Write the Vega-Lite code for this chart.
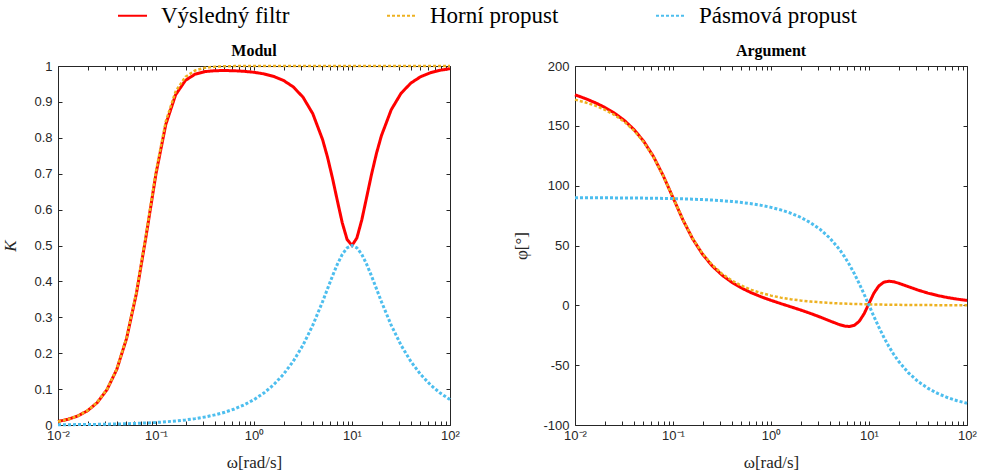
{
  "$schema": "https://vega.github.io/schema/vega-lite/v6.json",
  "autosize": {"type": "pad"},
  "padding": {"left": 1, "top": 0, "right": 5, "bottom": 5},
  "background": "white",
  "datasets": {
    "d": [
      {"w":0.01,"s":"Výsledný filtr","K":0.00993,"phi":175.91},
      {"w":0.012589,"s":"Výsledný filtr","K":0.01572,"phi":172.95},
      {"w":0.015849,"s":"Výsledný filtr","K":0.02489,"phi":169.57},
      {"w":0.019953,"s":"Výsledný filtr","K":0.03941,"phi":165.59},
      {"w":0.025119,"s":"Výsledný filtr","K":0.06237,"phi":160.77},
      {"w":0.031623,"s":"Výsledný filtr","K":0.09854,"phi":154.75},
      {"w":0.039811,"s":"Výsledný filtr","K":0.15501,"phi":147.09},
      {"w":0.050119,"s":"Výsledný filtr","K":0.24122,"phi":137.20},
      {"w":0.063096,"s":"Výsledný filtr","K":0.36621,"phi":124.40},
      {"w":0.079433,"s":"Výsledný filtr","K":0.52830,"phi":108.38},
      {"w":0.1,"s":"Výsledný filtr","K":0.70004,"phi":90.01},
      {"w":0.12589,"s":"Výsledný filtr","K":0.83723,"phi":71.63},
      {"w":0.15849,"s":"Výsledný filtr","K":0.91967,"phi":55.62},
      {"w":0.19953,"s":"Výsledný filtr","K":0.95994,"phi":42.84},
      {"w":0.25119,"s":"Výsledný filtr","K":0.97739,"phi":32.94},
      {"w":0.31623,"s":"Výsledný filtr","K":0.98440,"phi":25.28},
      {"w":0.39811,"s":"Výsledný filtr","K":0.98690,"phi":19.27},
      {"w":0.50119,"s":"Výsledný filtr","K":0.98738,"phi":14.45},
      {"w":0.63096,"s":"Výsledný filtr","K":0.98675,"phi":10.49},
      {"w":0.79433,"s":"Výsledný filtr","K":0.98520,"phi":7.12},
      {"w":1,"s":"Výsledný filtr","K":0.98250,"phi":4.17},
      {"w":1.2589,"s":"Výsledný filtr","K":0.97812,"phi":1.45},
      {"w":1.5849,"s":"Výsledný filtr","K":0.97110,"phi":-1.18},
      {"w":1.9953,"s":"Výsledný filtr","K":0.95991,"phi":-3.85},
      {"w":2.5119,"s":"Výsledný filtr","K":0.94196,"phi":-6.67},
      {"w":3.1623,"s":"Výsledný filtr","K":0.91317,"phi":-9.75},
      {"w":3.9811,"s":"Výsledný filtr","K":0.86710,"phi":-13.03},
      {"w":5.0119,"s":"Výsledný filtr","K":0.79487,"phi":-16.17},
      {"w":5.6234,"s":"Výsledný filtr","K":0.74612,"phi":-17.32},
      {"w":6.3096,"s":"Výsledný filtr","K":0.68872,"phi":-17.70},
      {"w":7.0795,"s":"Výsledný filtr","K":0.62555,"phi":-16.68},
      {"w":7.9433,"s":"Výsledný filtr","K":0.56385,"phi":-13.38},
      {"w":8.9125,"s":"Výsledný filtr","K":0.51677,"phi":-7.07},
      {"w":10,"s":"Výsledný filtr","K":0.50010,"phi":1.62},
      {"w":11.22,"s":"Výsledný filtr","K":0.52109,"phi":10.18},
      {"w":12.589,"s":"Výsledný filtr","K":0.57137,"phi":16.21},
      {"w":14.125,"s":"Výsledný filtr","K":0.63495,"phi":19.27},
      {"w":15.849,"s":"Výsledný filtr","K":0.69906,"phi":20.14},
      {"w":17.783,"s":"Výsledný filtr","K":0.75691,"phi":19.70},
      {"w":19.953,"s":"Výsledný filtr","K":0.80578,"phi":18.59},
      {"w":25.119,"s":"Výsledný filtr","K":0.87790,"phi":15.64},
      {"w":31.623,"s":"Výsledný filtr","K":0.92374,"phi":12.74},
      {"w":39.811,"s":"Výsledný filtr","K":0.95234,"phi":10.24},
      {"w":50.119,"s":"Výsledný filtr","K":0.97013,"phi":8.18},
      {"w":63.096,"s":"Výsledný filtr","K":0.98124,"phi":6.52},
      {"w":79.433,"s":"Výsledný filtr","K":0.98821,"phi":5.19},
      {"w":100,"s":"Výsledný filtr","K":0.99257,"phi":4.13},

      {"w":0.01,"s":"Horní propust","K":0.0100,"phi":171.87},
      {"w":0.012589,"s":"Horní propust","K":0.015847,"phi":169.75},
      {"w":0.015849,"s":"Horní propust","K":0.025111,"phi":167.05},
      {"w":0.019953,"s":"Horní propust","K":0.039779,"phi":163.62},
      {"w":0.025119,"s":"Horní propust","K":0.062970,"phi":159.24},
      {"w":0.031623,"s":"Horní propust","K":0.099504,"phi":153.58},
      {"w":0.039811,"s":"Horní propust","K":0.15654,"phi":146.22},
      {"w":0.050119,"s":"Horní propust","K":0.24362,"phi":136.58},
      {"w":0.063096,"s":"Horní propust","K":0.36987,"phi":124.00},
      {"w":0.079433,"s":"Horní propust","K":0.53362,"phi":108.19},
      {"w":0.1,"s":"Horní propust","K":0.70711,"phi":90.0},
      {"w":0.12589,"s":"Horní propust","K":0.84573,"phi":71.81},
      {"w":0.15849,"s":"Horní propust","K":0.92908,"phi":56.00},
      {"w":0.19953,"s":"Horní propust","K":0.96987,"phi":43.42},
      {"w":0.25119,"s":"Horní propust","K":0.98767,"phi":33.78},
      {"w":0.31623,"s":"Horní propust","K":0.99504,"phi":26.42},
      {"w":0.39811,"s":"Horní propust","K":0.99802,"phi":20.76},
      {"w":0.50119,"s":"Horní propust","K":0.99921,"phi":16.38},
      {"w":0.63096,"s":"Horní propust","K":0.99968,"phi":12.95},
      {"w":0.79433,"s":"Horní propust","K":0.99987,"phi":10.25},
      {"w":1,"s":"Horní propust","K":0.99995,"phi":8.13},
      {"w":1.2589,"s":"Horní propust","K":0.99998,"phi":6.45},
      {"w":1.5849,"s":"Horní propust","K":0.99999,"phi":5.12},
      {"w":1.9953,"s":"Horní propust","K":1.0,"phi":4.06},
      {"w":2.5119,"s":"Horní propust","K":1.0,"phi":3.23},
      {"w":3.1623,"s":"Horní propust","K":1.0,"phi":2.56},
      {"w":3.9811,"s":"Horní propust","K":1.0,"phi":2.04},
      {"w":5.0119,"s":"Horní propust","K":1.0,"phi":1.62},
      {"w":6.3096,"s":"Horní propust","K":1.0,"phi":1.28},
      {"w":7.9433,"s":"Horní propust","K":1.0,"phi":1.02},
      {"w":10,"s":"Horní propust","K":1.0,"phi":0.81},
      {"w":12.589,"s":"Horní propust","K":1.0,"phi":0.64},
      {"w":15.849,"s":"Horní propust","K":1.0,"phi":0.51},
      {"w":19.953,"s":"Horní propust","K":1.0,"phi":0.41},
      {"w":25.119,"s":"Horní propust","K":1.0,"phi":0.32},
      {"w":31.623,"s":"Horní propust","K":1.0,"phi":0.26},
      {"w":39.811,"s":"Horní propust","K":1.0,"phi":0.20},
      {"w":50.119,"s":"Horní propust","K":1.0,"phi":0.16},
      {"w":63.096,"s":"Horní propust","K":1.0,"phi":0.13},
      {"w":79.433,"s":"Horní propust","K":1.0,"phi":0.10},
      {"w":100,"s":"Horní propust","K":1.0,"phi":0.08},

      {"w":0.01,"s":"Pásmová propust","K":0.000707,"phi":89.92},
      {"w":0.012589,"s":"Pásmová propust","K":0.000890,"phi":89.90},
      {"w":0.015849,"s":"Pásmová propust","K":0.001121,"phi":89.87},
      {"w":0.019953,"s":"Pásmová propust","K":0.001411,"phi":89.84},
      {"w":0.025119,"s":"Pásmová propust","K":0.001776,"phi":89.80},
      {"w":0.031623,"s":"Pásmová propust","K":0.002236,"phi":89.74},
      {"w":0.039811,"s":"Pásmová propust","K":0.002815,"phi":89.68},
      {"w":0.050119,"s":"Pásmová propust","K":0.003544,"phi":89.59},
      {"w":0.063096,"s":"Pásmová propust","K":0.004462,"phi":89.49},
      {"w":0.079433,"s":"Pásmová propust","K":0.005617,"phi":89.36},
      {"w":0.1,"s":"Pásmová propust","K":0.007071,"phi":89.19},
      {"w":0.12589,"s":"Pásmová propust","K":0.008902,"phi":88.98},
      {"w":0.15849,"s":"Pásmová propust","K":0.011207,"phi":88.72},
      {"w":0.19953,"s":"Pásmová propust","K":0.014109,"phi":88.38},
      {"w":0.25119,"s":"Pásmová propust","K":0.017762,"phi":87.96},
      {"w":0.31623,"s":"Pásmová propust","K":0.022361,"phi":87.44},
      {"w":0.39811,"s":"Pásmová propust","K":0.028150,"phi":86.77},
      {"w":0.50119,"s":"Pásmová propust","K":0.035439,"phi":85.94},
      {"w":0.63096,"s":"Pásmová propust","K":0.044615,"phi":84.88},
      {"w":0.79433,"s":"Pásmová propust","K":0.056167,"phi":83.55},
      {"w":1,"s":"Pásmová propust","K":0.070707,"phi":81.87},
      {"w":1.2589,"s":"Pásmová propust","K":0.089009,"phi":79.75},
      {"w":1.5849,"s":"Pásmová propust","K":0.112035,"phi":77.05},
      {"w":1.9953,"s":"Pásmová propust","K":0.140974,"phi":73.62},
      {"w":2.5119,"s":"Pásmová propust","K":0.177265,"phi":69.24},
      {"w":3.1623,"s":"Pásmová propust","K":0.222498,"phi":63.58},
      {"w":3.9811,"s":"Pásmová propust","K":0.278034,"phi":56.22},
      {"w":5.0119,"s":"Pásmová propust","K":0.343716,"phi":46.58},
      {"w":5.6234,"s":"Pásmová propust","K":0.37913,"phi":40.69},
      {"w":6.3096,"s":"Pásmová propust","K":0.414515,"phi":34.00},
      {"w":7.0795,"s":"Pásmová propust","K":0.447534,"phi":26.48},
      {"w":7.9433,"s":"Pásmová propust","K":0.475029,"phi":18.19},
      {"w":8.9125,"s":"Pásmová propust","K":0.493476,"phi":9.27},
      {"w":10,"s":"Pásmová propust","K":0.5,"phi":0},
      {"w":11.22,"s":"Pásmová propust","K":0.493476,"phi":-9.27},
      {"w":12.589,"s":"Pásmová propust","K":0.475029,"phi":-18.19},
      {"w":14.125,"s":"Pásmová propust","K":0.447534,"phi":-26.48},
      {"w":15.849,"s":"Pásmová propust","K":0.414515,"phi":-34.00},
      {"w":17.783,"s":"Pásmová propust","K":0.37913,"phi":-40.69},
      {"w":19.953,"s":"Pásmová propust","K":0.343716,"phi":-46.58},
      {"w":25.119,"s":"Pásmová propust","K":0.278034,"phi":-56.22},
      {"w":31.623,"s":"Pásmová propust","K":0.222498,"phi":-63.58},
      {"w":39.811,"s":"Pásmová propust","K":0.177265,"phi":-69.24},
      {"w":50.119,"s":"Pásmová propust","K":0.140974,"phi":-73.62},
      {"w":63.096,"s":"Pásmová propust","K":0.112035,"phi":-77.05},
      {"w":79.433,"s":"Pásmová propust","K":0.089009,"phi":-79.75},
      {"w":100,"s":"Pásmová propust","K":0.070707,"phi":-81.87}
    ]
  },
  "data": {"name": "d"},
  "config": {
    "view": {"stroke": null},
    "axis": {
      "grid": false,
      "domainColor": "#262626",
      "tickColor": "#262626",
      "labelColor": "#262626",
      "titleColor": "#262626",
      "labelFont": "Liberation Sans",
      "labelFontSize": 13,
      "tickSize": -4,
      "domainWidth": 1,
      "tickWidth": 1,
      "labelPadding": 10,
      "labelOverlap": false,
      "labelFlush": false,
      "titleFont": "Liberation Serif",
      "titleFontWeight": "normal",
      "titleFontSize": 17
    },
    "axisX": {"labelPadding": 8},
    "title": {"font": "Liberation Serif", "fontSize": 16, "fontWeight": "bold", "color": "#000000", "offset": 1, "anchor": "middle", "frame": "group"},
    "legend": {
      "orient": "none",
      "legendX": 59,
      "legendY": -66,
      "direction": "horizontal",
      "columns": 3,
      "columnPadding": 93,
      "symbolType": "stroke",
      "symbolSize": 841,
      "symbolStrokeWidth": 2,
      "labelFont": "Liberation Serif",
      "labelFontSize": 23,
      "labelColor": "#000000",
      "labelOffset": 13,
      "labelLimit": 400,
      "padding": 0,
      "title": null
    }
  },
  "spacing": 125,
  "bounds": "flush",
  "resolve": {
    "scale": {"color": "shared", "strokeDash": "shared"},
    "legend": {"color": "shared", "strokeDash": "shared"}
  },
  "hconcat": [
    {
      "width": 392,
      "height": 359,
      "title": "Modul",
      "resolve": {"axis": {"x": "independent", "y": "independent"}},
      "layer": [
        {
          "transform": [{"filter": {"field": "s", "equal": "Výsledný filtr"}}],
          "mark": {"type": "line", "strokeWidth": 3, "clip": false},
          "encoding": {
            "x": {"field": "w", "type": "quantitative", "scale": {"type": "log", "domain": [0.01, 100], "nice": false},
              "axis": {"orient": "bottom", "title": "ω[rad/s]", "titlePadding": 12,
                "values": [0.01,0.02,0.03,0.04,0.05,0.06,0.07,0.08,0.09,0.1,0.2,0.3,0.4,0.5,0.6,0.7,0.8,0.9,1,2,3,4,5,6,7,8,9,10,20,30,40,50,60,70,80,90,100],
                "labelExpr": "datum.value==0.01?'10⁻²':datum.value==0.1?'10⁻¹':datum.value==1?'10⁰':datum.value==10?'10¹':datum.value==100?'10²':''"}},
            "y": {"field": "K", "type": "quantitative", "scale": {"domain": [0, 1], "nice": false, "zero": false},
              "axis": {"orient": "left", "title": "K", "titleFontStyle": "italic", "titlePadding": 14, "values": [0,0.1,0.2,0.3,0.4,0.5,0.6,0.7,0.8,0.9,1], "format": "~g"}},
            "color": {"field": "s", "type": "nominal", "scale": {"domain": ["Výsledný filtr", "Horní propust", "Pásmová propust"], "range": ["#FF0000", "#EDB120", "#4DBEEE"]}},
            "strokeDash": {"field": "s", "type": "nominal", "scale": {"domain": ["Výsledný filtr", "Horní propust", "Pásmová propust"], "range": [[1, 0], [3, 2], [3, 2]]}}
          }
        },
        {
          "transform": [{"filter": {"field": "s", "equal": "Horní propust"}}],
          "mark": {"type": "line", "strokeWidth": 2.5, "clip": false},
          "encoding": {
            "x": {"field": "w", "type": "quantitative", "axis": null},
            "y": {"field": "K", "type": "quantitative", "axis": null},
            "color": {"field": "s", "type": "nominal"},
            "strokeDash": {"field": "s", "type": "nominal"}
          }
        },
        {
          "transform": [{"filter": {"field": "s", "equal": "Pásmová propust"}}],
          "mark": {"type": "line", "strokeWidth": 3, "clip": false},
          "encoding": {
            "x": {"field": "w", "type": "quantitative", "axis": null},
            "y": {"field": "K", "type": "quantitative", "axis": null},
            "color": {"field": "s", "type": "nominal"},
            "strokeDash": {"field": "s", "type": "nominal"}
          }
        },
        {
          "mark": {"type": "line", "strokeOpacity": 0},
          "encoding": {
            "x": {"field": "w", "type": "quantitative",
              "axis": {"orient": "top", "labels": false, "title": null,
                "values": [0.01,0.02,0.03,0.04,0.05,0.06,0.07,0.08,0.09,0.1,0.2,0.3,0.4,0.5,0.6,0.7,0.8,0.9,1,2,3,4,5,6,7,8,9,10,20,30,40,50,60,70,80,90,100]}},
            "y": {"field": "K", "type": "quantitative",
              "axis": {"orient": "right", "labels": false, "title": null, "values": [0,0.1,0.2,0.3,0.4,0.5,0.6,0.7,0.8,0.9,1]}}
          }
        }
      ]
    },
    {
      "width": 392,
      "height": 359,
      "title": "Argument",
      "resolve": {"axis": {"x": "independent", "y": "independent"}},
      "layer": [
        {
          "transform": [{"filter": {"field": "s", "equal": "Výsledný filtr"}}],
          "mark": {"type": "line", "strokeWidth": 3, "clip": false},
          "encoding": {
            "x": {"field": "w", "type": "quantitative", "scale": {"type": "log", "domain": [0.01, 100], "nice": false},
              "axis": {"orient": "bottom", "title": "ω[rad/s]", "titlePadding": 12,
                "values": [0.01,0.02,0.03,0.04,0.05,0.06,0.07,0.08,0.09,0.1,0.2,0.3,0.4,0.5,0.6,0.7,0.8,0.9,1,2,3,4,5,6,7,8,9,10,20,30,40,50,60,70,80,90,100],
                "labelExpr": "datum.value==0.01?'10⁻²':datum.value==0.1?'10⁻¹':datum.value==1?'10⁰':datum.value==10?'10¹':datum.value==100?'10²':''"}},
            "y": {"field": "phi", "type": "quantitative", "scale": {"domain": [-100, 200], "nice": false, "zero": false},
              "axis": {"orient": "left", "title": "φ[°]", "titlePadding": 12, "values": [-100,-50,0,50,100,150,200], "labelExpr": "datum.value + ''"}},
            "color": {"field": "s", "type": "nominal", "scale": {"domain": ["Výsledný filtr", "Horní propust", "Pásmová propust"], "range": ["#FF0000", "#EDB120", "#4DBEEE"]}},
            "strokeDash": {"field": "s", "type": "nominal", "scale": {"domain": ["Výsledný filtr", "Horní propust", "Pásmová propust"], "range": [[1, 0], [3, 2], [3, 2]]}}
          }
        },
        {
          "transform": [{"filter": {"field": "s", "equal": "Horní propust"}}],
          "mark": {"type": "line", "strokeWidth": 2.5, "clip": false},
          "encoding": {
            "x": {"field": "w", "type": "quantitative", "axis": null},
            "y": {"field": "phi", "type": "quantitative", "axis": null},
            "color": {"field": "s", "type": "nominal"},
            "strokeDash": {"field": "s", "type": "nominal"}
          }
        },
        {
          "transform": [{"filter": {"field": "s", "equal": "Pásmová propust"}}],
          "mark": {"type": "line", "strokeWidth": 3, "clip": false},
          "encoding": {
            "x": {"field": "w", "type": "quantitative", "axis": null},
            "y": {"field": "phi", "type": "quantitative", "axis": null},
            "color": {"field": "s", "type": "nominal"},
            "strokeDash": {"field": "s", "type": "nominal"}
          }
        },
        {
          "mark": {"type": "line", "strokeOpacity": 0},
          "encoding": {
            "x": {"field": "w", "type": "quantitative",
              "axis": {"orient": "top", "labels": false, "title": null,
                "values": [0.01,0.02,0.03,0.04,0.05,0.06,0.07,0.08,0.09,0.1,0.2,0.3,0.4,0.5,0.6,0.7,0.8,0.9,1,2,3,4,5,6,7,8,9,10,20,30,40,50,60,70,80,90,100]}},
            "y": {"field": "phi", "type": "quantitative",
              "axis": {"orient": "right", "labels": false, "title": null, "values": [-100,-50,0,50,100,150,200]}}
          }
        }
      ]
    }
  ]
}
